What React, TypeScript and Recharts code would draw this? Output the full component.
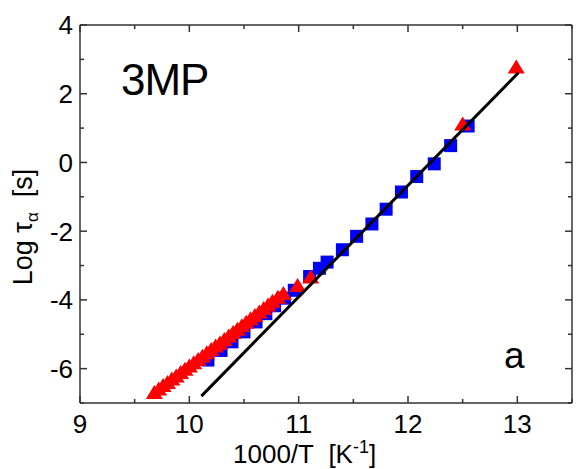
import { ScatterChart, Scatter, XAxis, YAxis, ReferenceArea } from "recharts"

// 1000/T values and log tau for the two data sets
const squareX = [10.17, 10.29, 10.39, 10.50, 10.61, 10.70, 10.78, 10.87, 10.96, 11.10, 11.19, 11.26, 11.40, 11.53, 11.67, 11.80, 11.94, 12.08, 12.24, 12.39, 12.55]
const squareY = [-5.75, -5.47, -5.22, -4.93, -4.64, -4.40, -4.17, -3.95, -3.72, -3.32, -3.08, -2.90, -2.54, -2.15, -1.79, -1.36, -0.86, -0.41, -0.04, 0.49, 1.06]

const triX = [9.68, 9.72, 9.76, 9.80, 9.84, 9.88, 9.92, 9.96, 10.00, 10.04, 10.08, 10.12, 10.16, 10.20, 10.24, 10.28, 10.32, 10.36, 10.40, 10.44, 10.48, 10.52, 10.56, 10.60, 10.64, 10.68, 10.72, 10.76, 10.81, 10.86, 10.99, 11.11, 12.50, 12.99]
const triY = [-6.72, -6.62, -6.52, -6.43, -6.33, -6.24, -6.14, -6.05, -5.95, -5.86, -5.76, -5.67, -5.57, -5.47, -5.37, -5.28, -5.18, -5.08, -4.98, -4.88, -4.78, -4.68, -4.58, -4.48, -4.38, -4.28, -4.18, -4.07, -3.95, -3.84, -3.61, -3.36, 1.09, 2.75]

const fitX = [10.11, 13.01]
const fitY = [-6.80, 2.61]

const xTicks = [9, 9.5, 10, 10.5, 11, 11.5, 12, 12.5, 13, 13.5]
const yTicks = [-7, -6, -5, -4, -3, -2, -1, 0, 1, 2, 3, 4]

const squares = squareX.map((x, i) => ({ x, y: squareY[i] }))
const triangles = triX.map((x, i) => ({ x, y: triY[i] }))
const fit = fitX.map((x, i) => ({ x, y: fitY[i] }))

const FONT = "'Liberation Sans', Arial, sans-serif"
const AXIS = "#333"
const SP = "\u00a0"

const BottomTick = (p: any) => {
  const major = Number.isInteger(p.payload.value)
  return (
    <g>
      <line x1={p.x} x2={p.x} y1={p.y} y2={p.y - (major ? 7 : 4)} stroke={AXIS} strokeWidth={1.5} />
      {major && (
        <text x={p.x} y={p.y + 30} textAnchor="middle" fontSize={26} fontFamily={FONT} fill="#000">
          {p.payload.value}
        </text>
      )}
    </g>
  )
}

const LeftTick = (p: any) => {
  const major = p.payload.value % 2 === 0
  return (
    <g>
      <line x1={p.x} x2={p.x + (major ? 7 : 4)} y1={p.y} y2={p.y} stroke={AXIS} strokeWidth={1.5} />
      {major && (
        <text x={p.x - 7} y={p.y} dy="0.36em" textAnchor="end" fontSize={26} fontFamily={FONT} fill="#000">
          {p.payload.value}
        </text>
      )}
    </g>
  )
}

// top and right sides of the box, with inward ticks
const Frame = (p: any) => {
  const { x, y, width, height } = p
  if (x == null) return null
  const sx = (v: number) => x + ((v - 9) / 4.5) * width
  const sy = (v: number) => y + ((4 - v) / 11) * height
  return (
    <g>
      <line x1={x} x2={x + width} y1={y} y2={y} stroke={AXIS} strokeWidth={1.5} />
      <line x1={x + width} x2={x + width} y1={y} y2={y + height} stroke={AXIS} strokeWidth={1.5} />
      {xTicks.map((v) => (
        <line key={"t" + v} x1={sx(v)} x2={sx(v)} y1={y} y2={y + (Number.isInteger(v) ? 7 : 4)} stroke={AXIS} strokeWidth={1.5} />
      ))}
      {yTicks.map((v) => (
        <line key={"r" + v} x1={x + width} x2={x + width - (v % 2 === 0 ? 7 : 4)} y1={sy(v)} y2={sy(v)} stroke={AXIS} strokeWidth={1.5} />
      ))}
    </g>
  )
}

const Square = (p: any) => <rect x={p.cx - 6.5} y={p.cy - 6.5} width={13} height={13} fill="#0000ff" />

const Triangle = (p: any) => (
  <polygon points={`${p.cx},${p.cy - 8.5} ${p.cx - 8.5},${p.cy + 5.5} ${p.cx + 8.5},${p.cy + 5.5}`} fill="#ff0000" />
)

export default function App() {
  return (
    <div style={{ position: "fixed", left: 0, top: 0, background: "#fff" }}>
      <ScatterChart width={576} height={469} margin={{ top: 25, right: 4, bottom: 0, left: 0 }}>
        <XAxis type="number" dataKey="x" domain={[9, 13.5]} ticks={xTicks} interval={0}
          height={66} tickSize={0} tickMargin={0} tickLine={false}
          axisLine={{ stroke: AXIS, strokeWidth: 1.5 }} tick={BottomTick} allowDataOverflow />
        <YAxis type="number" dataKey="y" domain={[-7, 4]} ticks={yTicks} interval={0}
          width={80} tickSize={0} tickMargin={0} tickLine={false}
          axisLine={{ stroke: AXIS, strokeWidth: 1.5 }} tick={LeftTick} allowDataOverflow />
        <ReferenceArea x1={9} x2={13.5} y1={-7} y2={4} shape={Frame} ifOverflow="visible" />
        <Scatter data={squares} shape={Square} isAnimationActive={false} />
        <Scatter data={triangles} shape={Triangle} isAnimationActive={false} />
        <Scatter data={fit} shape={() => <g />} line={{ stroke: "#000", strokeWidth: 3 }} isAnimationActive={false} />
        <text x={121} y={95} fontSize={44} fontFamily={FONT} fill="#000" letterSpacing={-1}>3MP</text>
        <text x={504} y={368} fontSize={37} fontFamily={FONT} fill="#000">a</text>
        <text x={233} y={463} fontSize={26} fontFamily={FONT} fill="#000">
          {`1000/T${SP}${SP}[K`}<tspan fontSize={18} dy={-10}>-1</tspan><tspan dy={10}>]</tspan>
        </text>
        <text x={32} y={227} transform="rotate(-90 32 227)" textAnchor="middle" fontSize={27} fontFamily={FONT} fill="#000">
          {`Log${SP}τ`}<tspan fontSize={17} dy={6}>α</tspan><tspan dy={-6}>{`${SP}${SP}[s]`}</tspan>
        </text>
      </ScatterChart>
    </div>
  )
}
